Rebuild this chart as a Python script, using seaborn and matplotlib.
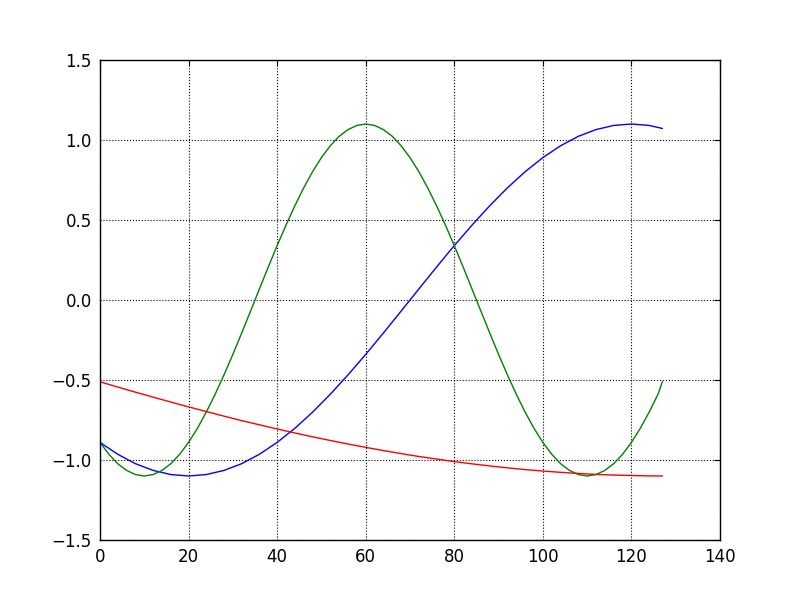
import matplotlib
matplotlib.use("Agg")
import seaborn as sns
import matplotlib.pyplot as plt

# values
x = [0, 4, 8, 12, 16, 20, 24, 28, 32, 36, 40, 44, 48, 52, 56, 60,
     64, 68, 72, 76, 80, 84, 88, 92, 96, 100, 104, 108, 112, 116, 120, 124, 127]

blue = [-0.890, -0.964, -1.023, -1.065, -1.091, -1.100, -1.091, -1.065, -1.023, -0.964,
        -0.890, -0.802, -0.701, -0.589, -0.468, -0.340, -0.206, -0.069, 0.069, 0.206,
        0.340, 0.468, 0.589, 0.701, 0.802, 0.890, 0.964, 1.023, 1.065, 1.091,
        1.100, 1.091, 1.072]

red = [-0.511, -0.544, -0.576, -0.607, -0.638, -0.668, -0.697, -0.726, -0.754, -0.780,
       -0.806, -0.831, -0.855, -0.878, -0.900, -0.921, -0.941, -0.960, -0.978, -0.994,
       -1.010, -1.024, -1.037, -1.049, -1.060, -1.069, -1.077, -1.084, -1.090, -1.094,
       -1.097, -1.099, -1.100]

# green wiggles faster, so it is read at a finer step
x_green = [0, 2, 4, 6, 8, 10, 12, 14, 16, 18, 20, 22, 24, 26, 28, 30, 32, 34, 36, 38,
           40, 42, 44, 46, 48, 50, 52, 54, 56, 58, 60, 62, 64, 66, 68, 70, 72, 74, 76, 78,
           80, 82, 84, 86, 88, 90, 92, 94, 96, 98, 100, 102, 104, 106, 108, 110, 112, 114,
           116, 118, 120, 122, 124, 126, 127]

green = [-0.890, -0.964, -1.023, -1.065, -1.091, -1.100, -1.091, -1.065, -1.023, -0.964,
         -0.890, -0.802, -0.701, -0.589, -0.468, -0.340, -0.206, -0.069, 0.069, 0.206,
         0.340, 0.468, 0.589, 0.701, 0.802, 0.890, 0.964, 1.023, 1.065, 1.091,
         1.100, 1.091, 1.065, 1.023, 0.964, 0.890, 0.802, 0.701, 0.589, 0.468,
         0.340, 0.206, 0.069, -0.069, -0.206, -0.340, -0.468, -0.589, -0.701, -0.802,
         -0.890, -0.964, -1.023, -1.065, -1.091, -1.100, -1.091, -1.065, -1.023, -0.964,
         -0.890, -0.802, -0.701, -0.589, -0.510]

sns.set_style("white")
plt.rcParams['font.family'] = ['DejaVu Sans']

fig = plt.figure(figsize=(8, 6), dpi=100)
ax = fig.add_axes([0.125, 0.1, 0.775, 0.8])

sns.lineplot(x=x, y=blue, color='blue', linewidth=1, ax=ax, sort=False)
sns.lineplot(x=x_green, y=green, color='green', linewidth=1, ax=ax, sort=False)
sns.lineplot(x=x, y=red, color='red', linewidth=1, ax=ax, sort=False)

ax.set_xlim(0, 140)
ax.set_ylim(-1.5, 1.5)
ax.set_xticks(range(0, 141, 20))
ax.set_yticks([-1.5, -1.0, -0.5, 0.0, 0.5, 1.0, 1.5])
ax.set_yticklabels(['−1.5', '−1.0', '−0.5', '0.0', '0.5', '1.0', '1.5'])
ax.grid(True, color='black', linestyle=':', linewidth=0.8)
ax.tick_params(direction='in', length=4, top=True, right=True,
               labelsize=12, colors='black', pad=6)
for s in ax.spines.values():
    s.set_color('black')
    s.set_linewidth(1)

plt.savefig('out.png', dpi=100, facecolor='white')
